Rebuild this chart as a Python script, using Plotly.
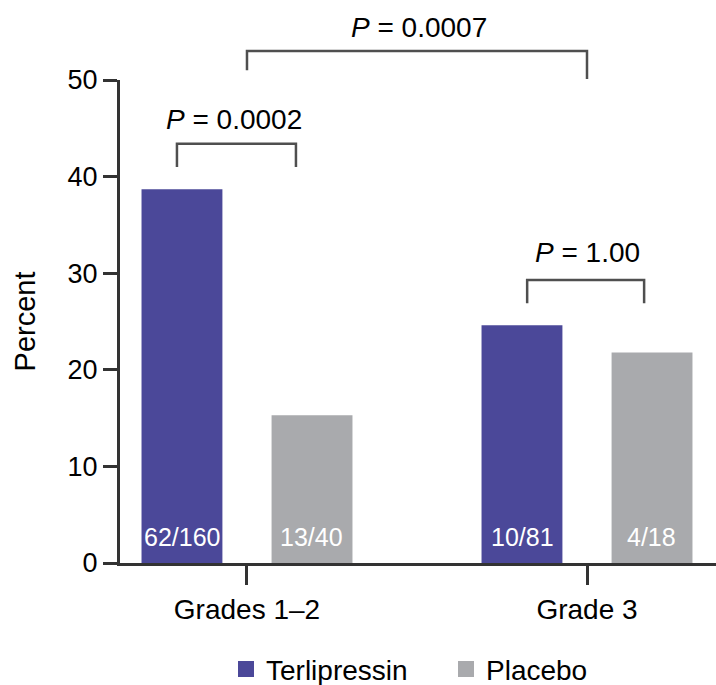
import plotly.graph_objects as go

categories = ["Grades 1–2", "Grade 3"]
cat_pos = [0, 1]
terlipressin = [38.7, 24.6]
placebo = [15.3, 21.8]
terli_counts = ["62/160", "10/81"]
placebo_counts = ["13/40", "4/18"]
p_within = ["0.0002", "1.00"]
p_between = "0.0007"
y_ticks = [0, 10, 20, 30, 40, 50]

PURPLE = "#4b4899"
GRAY = "#a9aaad"
AX = "#333333"
BR = "#4f4f4f"
FONT = "Liberation Sans, Arial, Helvetica, sans-serif"
FS = 28

fig = go.Figure()
fig.add_trace(go.Bar(x=cat_pos, y=terlipressin, name="Terlipressin", showlegend=False,
                     marker=dict(color=PURPLE, line=dict(width=0))))
fig.add_trace(go.Bar(x=cat_pos, y=placebo, name="Placebo", showlegend=False,
                     marker=dict(color=GRAY, line=dict(width=0))))
fig.add_trace(go.Scatter(x=[None], y=[None], mode="markers", name="Terlipressin",
                         marker=dict(symbol="square", size=16, color=PURPLE)))
fig.add_trace(go.Scatter(x=[None], y=[None], mode="markers", name="Placebo",
                         marker=dict(symbol="square", size=16, color=GRAY)))

OFF = 0.191
ann = []
for i, c in enumerate(cat_pos):
    ann.append(dict(x=c - OFF, y=0, xref="x", yref="y", text=terli_counts[i],
                    showarrow=False, yanchor="bottom", yshift=10,
                    font=dict(color="white", size=25, family=FONT)))
    ann.append(dict(x=c + OFF, y=0, xref="x", yref="y", text=placebo_counts[i],
                    showarrow=False, yanchor="bottom", yshift=10,
                    font=dict(color="white", size=25, family=FONT)))

shapes = []
def bracket(x0, x1, ytop, yl, yr):
    path = f"M {x0},{yl/50} L {x0},{ytop/50} L {x1},{ytop/50} L {x1},{yr/50}"
    shapes.append(dict(type="path", path=path, xref="x", yref="paper",
                       line=dict(color=BR, width=2.5)))

bracket(cat_pos[0] - 0.206, cat_pos[0] + 0.144, 43.4, 41.0, 41.0)
bracket(cat_pos[1] - 0.176, cat_pos[1] + 0.168, 29.3, 26.9, 26.9)
bracket(cat_pos[0], cat_pos[1], 53.0, 51.0, 50.1)

ann.append(dict(x=cat_pos[0] - 0.038, y=45.9 / 50, xref="x", yref="paper",
                text=f"<i>P</i> = {p_within[0]}", showarrow=False, yanchor="middle",
                font=dict(color="black", size=FS, family=FONT)))
ann.append(dict(x=cat_pos[1], y=32.1 / 50, xref="x", yref="paper",
                text=f"<i>P</i> = {p_within[1]}", showarrow=False, yanchor="middle",
                font=dict(color="black", size=FS, family=FONT)))
ann.append(dict(x=0.506, y=55.4 / 50, xref="x", yref="paper",
                text=f"<i>P</i> = {p_between}", showarrow=False, yanchor="middle",
                font=dict(color="black", size=FS, family=FONT)))

fig.update_layout(
    width=716, height=685,
    margin=dict(l=120, r=0, t=80, b=122, autoexpand=False),
    paper_bgcolor="white", plot_bgcolor="white",
    barmode="group", bargap=0.235, bargroupgap=0.378,
    font=dict(family=FONT, size=FS, color="black"),
    showlegend=True,
    legend=dict(orientation="h", x=(226 - 120) / 596, xanchor="left", y=-0.22,
                yanchor="middle", font=dict(size=FS, family=FONT),
                bgcolor="rgba(0,0,0,0)", itemwidth=30, itemsizing="trace",
                entrywidth=175, entrywidthmode="pixels"),
    annotations=ann, shapes=shapes,
    xaxis=dict(range=[-0.3735, 1.3794], tickvals=cat_pos, ticktext=categories,
               showline=True, linecolor=AX, linewidth=3, ticks="outside",
               ticklen=19, tickwidth=2.5, tickcolor=AX, showgrid=False,
               zeroline=False, tickfont=dict(size=FS, family=FONT)),
    yaxis=dict(range=[0, 50], tickvals=y_ticks, showline=True, linecolor=AX,
               linewidth=3, ticks="outside", ticklen=14, tickwidth=3, tickcolor=AX,
               showgrid=False, zeroline=False, tickfont=dict(size=27, family=FONT),
               title=dict(text="Percent", font=dict(size=29, family=FONT), standoff=24)),
)

fig.write_html("out.html")
